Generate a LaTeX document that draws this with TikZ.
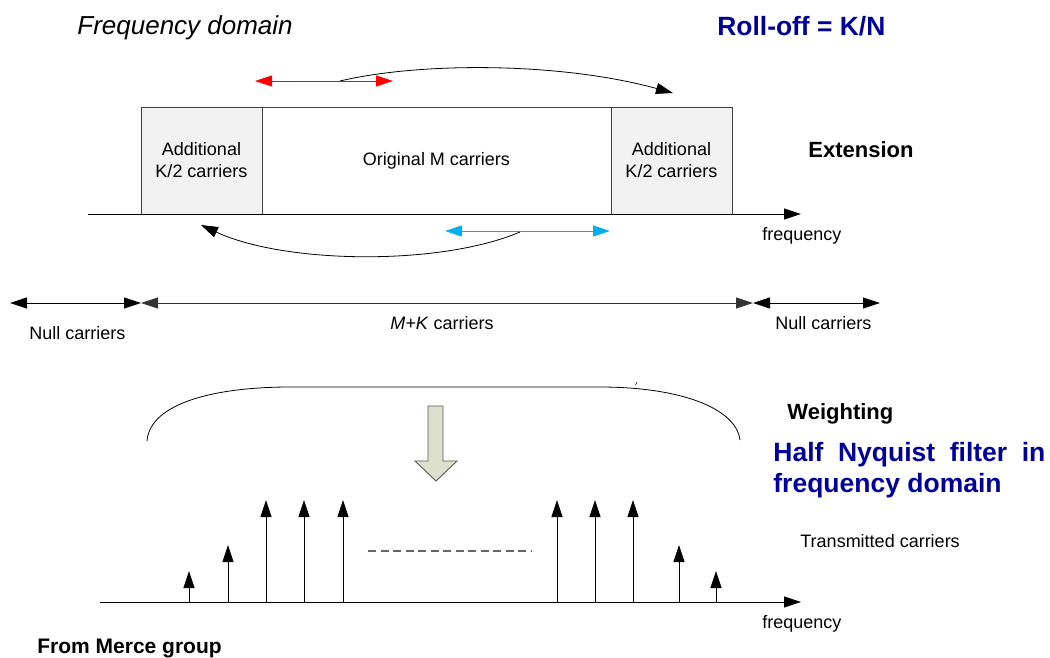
\documentclass[tikz,border=0pt]{standalone}
\usepackage{fontspec}
\setmainfont{Liberation Sans}
\usetikzlibrary{arrows.meta}
\definecolor{titleblue}{RGB}{0,0,153}
\definecolor{extgray}{RGB}{242,242,242}
\definecolor{shiftblue}{RGB}{0,176,240}
\definecolor{weightfill}{RGB}{221,224,204}
\newcommand{\lbl}{\fontsize{18}{22}\selectfont}
\newcommand{\bigbf}{\fontsize{26.5}{31}\selectfont\bfseries}
\tikzset{
  sigarrow/.style={-{Triangle[length=17pt,width=11pt]}},
  dblarrow/.style={{Triangle[length=17pt,width=11pt]}-{Triangle[length=17pt,width=11pt]}},
  txt/.style={inner sep=0pt, anchor=base west, font=\lbl},
  band/.style={draw=black!75, line width=0.9pt, minimum height=107pt, align=center, font=\lbl, inner sep=0pt}
}

\begin{document}
\begin{tikzpicture}[x=1pt,y=-1pt,line width=0.8pt]
\useasboundingbox (0,0) rectangle (1050,657);
% headings
\node[txt, font=\fontsize{26}{30}\selectfont\itshape] (fdom) at (77,34) {Frequency domain};
\node[txt, font=\fontsize{26.4}{30}\selectfont\bfseries, text=titleblue] (roll) at (717,35) {Roll-off = K/N};
\node[txt, font=\fontsize{22}{26}\selectfont\bfseries] (ext) at (808,157) {Extension};
% extended band
\node[band, fill=extgray, minimum width=121pt] (addl) at (201.5,160.5) {Additional\\K/2 carriers};
\node[band, fill=white, minimum width=349pt] (orig) at (436.5,160.5) {Original M carriers};
\node[band, fill=extgray, minimum width=121pt] (addr) at (671.5,160.5) {Additional\\K/2 carriers};
\coordinate (ax0) at (88,214);
\coordinate (ax1) at (801,214);
\draw[sigarrow] (ax0) -- (ax1);
\node[txt] (freq1) at (762,240) {frequency};
% cyclic copy of the band edges
\draw[dblarrow, red] (255,81) -- (393,81);
\draw[sigarrow] (340,81) .. controls (420,62) and (560,62) .. (673,93);
\draw[dblarrow, shiftblue] (445,231) -- (610,231);
\draw[sigarrow] (520,232) .. controls (440,266) and (285,264) .. (201,225);
% carrier counts
\coordinate (n0) at (10,303);
\coordinate (n1) at (141,303);
\coordinate (n2) at (753,303);
\coordinate (n3) at (880,303);
\draw[dblarrow] (n0) -- (n1);
\draw[dblarrow, black!80] (n1) -- (n2);
\draw[dblarrow] (n2) -- (n3);
\node[txt] (nulll) at (29,339.5) {Null carriers};
\node[txt] (mk) at (390,329.5) {\textit{M+K} carriers};
\node[txt] (nullr) at (775,329.5) {Null carriers};
% weighting window
\draw (147,441) .. controls (150,403) and (215,387) .. (290,387) -- (600,387) .. controls (680,387) and (736,408) .. (740,440);
\draw[line width=0.6pt] (635.5,385) -- (637,382);
\draw[draw=black!65, fill=weightfill, line width=0.9pt] (428,406) -- (443,406) -- (443,461) -- (457,461) -- (436,481) -- (415,461) -- (428,461) -- cycle;
\node[txt, font=\fontsize{22}{26}\selectfont\bfseries] (wgt) at (787,419) {Weighting};
\node[txt, font=\bigbf, text=titleblue, text width=272pt, align=justify] (nyq) at (773,461) {Half Nyquist filter in\linebreak frequency domain};
\node[txt] (tx) at (800,547) {Transmitted carriers};
% transmitted carriers
\coordinate (bx0) at (100,602);
\coordinate (bx1) at (801,602);
\draw[sigarrow] (bx0) -- (bx1);
\foreach \x/\t in {189/571, 228/545, 266/500, 304/500, 343/500, 557/500, 595/500, 633/500, 679/545, 716/571}
  \draw[sigarrow] (\x,602) -- (\x,\t);
\draw[black!60, line width=1.2pt, dash pattern=on 8pt off 4.5pt] (368,551) -- (532,551);
\node[txt] (freq2) at (762,628) {frequency};
\node[txt, font=\fontsize{21}{25}\selectfont\bfseries] (src) at (37,653) {From Merce group};
\end{tikzpicture}
\end{document}
